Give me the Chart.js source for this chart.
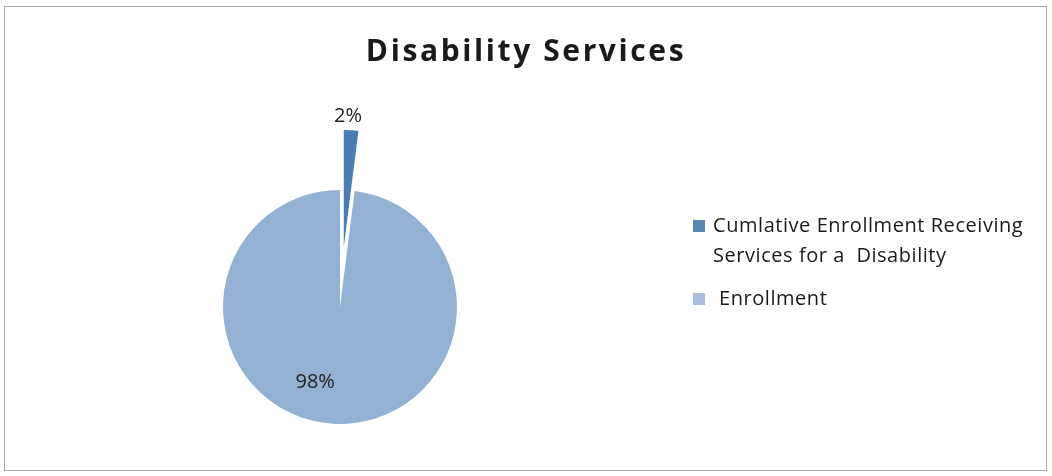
<!DOCTYPE html>
<html>
<head>
<meta charset="utf-8">
<script src="https://cdn.jsdelivr.net/npm/chart.js@4.4.1/dist/chart.umd.min.js"></script>
<style>
  html, body { margin: 0; padding: 0; background: #fff; overflow: hidden; }
  #wrap { position: relative; width: 1052px; height: 476px; }
  #frame { position: absolute; left: 4px; top: 6px; width: 1043px; height: 465px; border: 1px solid #a8a8a8; box-sizing: border-box; }
  #c { position: absolute; left: 0; top: 0; }
  #title { position: absolute; left: 0; top: 36px; width: 1052px; text-align: center;
           font-family: "Open Sans", Lato, sans-serif; font-weight: bold; font-size: 30px; line-height: 28px; letter-spacing: 2.6px; color: #1a1a1a; }
  .leg { position: absolute; font-family: "Open Sans", Lato, sans-serif; font-size: 20px; line-height: 30px; letter-spacing: 0.55px; color: #1a1a1a; white-space: nowrap; }
  .sw { position: absolute; width: 12px; height: 12px; }
</style>
</head>
<body>
<div id="wrap">
  <div id="frame"></div>
  <canvas id="c" width="1052" height="476"></canvas>
  <div id="title"></div>
  <div id="legend"></div>
</div>
<script>
// ---- data ----
const chartTitle = "Disability Services";
const categories = ["Cumlative Enrollment Receiving Services for a  Disability", "Enrollment"];
const legendLines = [["Cumlative Enrollment Receiving", "Services for a\u00a0 Disability"], ["Enrollment"]];
const values = [2, 98];

// ---- styles ----
const sliceColors = ["#4a7db3", "#93b1d3"];
const legendColors = ["#5b86b1", "#a9bedb"];
const explode = [60, 0];
const labelRadius = [1.635, 0.68];
const labelAngleShift = [-1.2, 14.6];

document.getElementById('title').textContent = chartTitle;

// HTML legend built from categories
const legend = document.getElementById('legend');
const legendTops = [210, 283];
const legendTextLeft = [713, 719];
legendLines.forEach((lines, i) => {
  const sw = document.createElement('div');
  sw.className = 'sw';
  sw.style.left = '693px';
  sw.style.top = (legendTops[i] + 10) + 'px';
  sw.style.background = legendColors[i];
  legend.appendChild(sw);
  const t = document.createElement('div');
  t.className = 'leg';
  t.style.left = legendTextLeft[i] + 'px';
  t.style.top = legendTops[i] + 'px';
  t.innerHTML = lines.map(s => s.replace(/&/g,'&amp;')).join('<br>');
  legend.appendChild(t);
});

const explodePlugin = {
  id: 'explodeDraw',
  beforeDatasetDraw(chart, args) {
    const ctx = chart.ctx;
    args.meta.data.forEach((arc, i) => {
      const d = explode[i] || 0;
      const mid = (arc.startAngle + arc.endAngle) / 2;
      ctx.save();
      ctx.translate(Math.cos(mid) * d, Math.sin(mid) * d);
      arc.draw(ctx, chart.chartArea);
      ctx.restore();
    });
    return false;
  },
  afterDatasetsDraw(chart) {
    const ctx = chart.ctx;
    const meta = chart.getDatasetMeta(0);
    const total = values.reduce((a, b) => a + b, 0);
    ctx.save();
    ctx.font = '20px "Open Sans", Lato, sans-serif';
    ctx.fillStyle = '#222';
    ctx.textAlign = 'center';
    ctx.textBaseline = 'middle';
    meta.data.forEach((arc, i) => {
      const mid = (arc.startAngle + arc.endAngle) / 2 + labelAngleShift[i] * Math.PI / 180;
      const r = arc.outerRadius * labelRadius[i];
      const x = arc.x + Math.cos(mid) * r;
      const y = arc.y + Math.sin(mid) * r;
      ctx.fillText(Math.round(values[i] / total * 100) + '%', x, y);
    });
    ctx.restore();
  }
};

new Chart(document.getElementById('c'), {
  type: 'pie',
  data: {
    labels: categories,
    datasets: [{ data: values, backgroundColor: sliceColors, borderWidth: 0 }]
  },
  options: {
    responsive: false,
    animation: false,
    events: [],
    layout: { padding: { left: 223, right: 595, top: 190, bottom: 52 } },
    plugins: { legend: { display: false }, title: { display: false }, tooltip: { enabled: false } }
  },
  plugins: [explodePlugin]
});
</script>
</body>
</html>
